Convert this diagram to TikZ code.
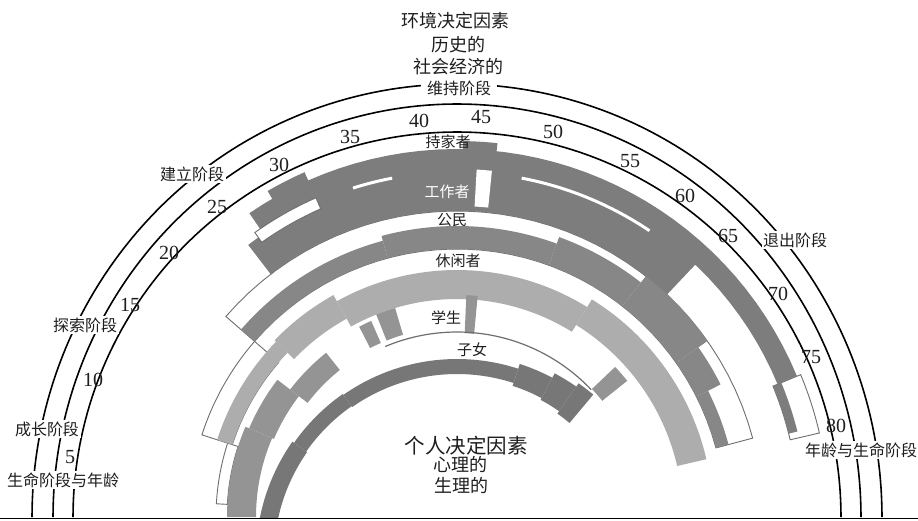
\documentclass[tikz,border=0pt]{standalone}
\usepackage{fontspec}
\setmainfont{Liberation Serif}
\newfontfamily\cjk{Noto Sans CJK SC}
\definecolor{hmc}{HTML}{7D7D7D}
\definecolor{cit}{HTML}{878787}
\definecolor{lei}{HTML}{ADADAD}
\definecolor{stu}{HTML}{949494}
\definecolor{chd}{HTML}{777777}
\definecolor{oln}{HTML}{6E6E6E}
\definecolor{ink}{HTML}{1E1E1E}
% annular sector around (457,517); angle from age: 180-2.1*age
\newcommand{\agesec}[5]{\path[#5] plot[domain=#1:#2,samples=40,variable=\t] ({457+#4*cos(180-2.1*\t)},{517-#4*sin(180-2.1*\t)}) -- plot[domain=#2:#1,samples=40,variable=\t] ({457+#3*cos(180-2.1*\t)},{517-#3*sin(180-2.1*\t)}) -- cycle;}
% annular sector around (457,557), angles in degrees
\newcommand{\chsec}[5]{\path[#5] plot[domain=#1:#2,samples=40,variable=\t] ({457+#4*cos(\t)},{557-#4*sin(\t)}) -- plot[domain=#2:#1,samples=40,variable=\t] ({457+#3*cos(\t)},{557-#3*sin(\t)}) -- cycle;}
\begin{document}
\begin{tikzpicture}[x=1pt,y=-1pt,
  ol/.style={fill=white,draw=oln,line width=0.9pt},
  hm/.style={fill=hmc},
  ci/.style={fill=cit},
  le/.style={fill=lei},
  st/.style={fill=stu},
  ch/.style={fill=chd},
  wh/.style={fill=white},
  arcline/.style={draw=black,line width=1.6pt},
  stage/.style={fill=white,inner sep=1.5pt,text=ink,font=\cjk\fontsize{16}{16}\selectfont},
  role/.style={inner sep=0pt,text=ink,font=\cjk\fontsize{15}{15}\selectfont},
  num/.style={inner sep=0pt,text=ink,font=\fontsize{20}{20}\selectfont},
  ttl/.style={inner sep=0pt,text=ink,font=\cjk\fontsize{18}{18}\selectfont},
  bigttl/.style={inner sep=0pt,text=ink,font=\cjk\fontsize{20.5}{20.5}\selectfont}]
\useasboundingbox (0,0) rectangle (918,520);
\fill[white] (0,0) rectangle (918,520);
\begin{scope}
\clip (0,0) rectangle (918,517);
% outlines of lanes
\agesec{8.5}{19.5}{236}{268}{ol}
\agesec{1.5}{8.5}{230}{241}{ol}
\agesec{19.5}{78.6}{268}{306}{ol}
\agesec{75}{79.5}{342}{372}{ol}
% homemaker
\agesec{26.5}{75}{347}{368}{hm}
\agesec{28.5}{31.5}{347}{377}{hm}
\agesec{43.3}{45.8}{347}{376}{hm}
\agesec{75}{79}{342}{351}{hm}
% worker
\agesec{25}{63.5}{306}{343}{hm}
\agesec{31.5}{63.5}{342}{348}{hm}
\agesec{34.5}{37.7}{343.5}{346.5}{wh}
\agesec{48}{59}{343.5}{346.5}{wh}
\agesec{44.4}{45.6}{311}{348}{wh}
\agesec{26}{31.5}{337}{349}{ol}
% citizen
\agesec{19.5}{35.7}{268}{286}{ci}
\agesec{35.7}{52.4}{268}{291}{ci}
\agesec{52.4}{61}{268}{298}{ci}
\agesec{61}{69}{268}{306}{ci}
\agesec{69}{73}{268}{295}{ci}
\agesec{73}{78.6}{268}{281}{ci}
% leisure
\agesec{8.5}{21}{236}{252}{le}
\agesec{21}{29}{227}{254}{le}
\agesec{29}{58}{218}{247}{le}
\agesec{58}{79.5}{226}{256}{le}
% student
\agesec{0}{11}{201}{230}{st}
\agesec{11}{17.8}{199}{226}{st}
\agesec{17.8}{24.5}{188}{210}{st}
\agesec{29.9}{31.6}{190}{214}{st}
\agesec{32.5}{35}{190}{218}{st}
\agesec{44}{45.4}{184}{222}{st}
\agesec{65}{67.3}{186}{218}{st}
\draw[oln,line width=1.2pt] plot[domain=32:65,samples=60,variable=\t] ({457+185*cos(180-2.1*\t)},{517-185*sin(180-2.1*\t)});
% child
\chsec{185}{145}{183}{201}{ch}
\chsec{145}{125}{184}{199}{ch}
\chsec{125}{72}{183}{198}{ch}
\chsec{72}{62}{180}{203}{ch}
\chsec{62}{55}{178}{208}{ch}
\chsec{55}{50}{175}{212}{ch}
\end{scope}
% life stage arcs
\draw[arcline] plot[domain=0:180,samples=150,variable=\t] ({457+425*cos(\t)},{517-433*sin(\t)});
\draw[arcline] plot[domain=0:180,samples=150,variable=\t] ({457+404*cos(\t)},{517-413*sin(\t)});
\draw[arcline] plot[domain=0:180,samples=150,variable=\t] ({457+384*cos(\t)},{517-385*sin(\t)});
\draw[line width=1.5pt] (0,518.5) -- (918,518.5);
% stage labels
\node[stage,inner xsep=6pt] (sm) at (459,88) {维持阶段};
\node[stage] (se) at (192,174) {建立阶段};
\node[stage] (sx) at (85,325) {探索阶段};
\node[stage] (sg) at (47,429) {成长阶段};
\node[stage] (sl) at (63,480) {生命阶段与年龄};
\node[stage] (sd) at (795,240) {退出阶段};
\node[stage] (sr) at (861,450) {年龄与生命阶段};
% ages
\node[num] (a5) at (70,457) {5};
\node[num] (a10) at (93,380) {10};
\node[num] (a15) at (130,305) {15};
\node[num] (a20) at (169,253) {20};
\node[num] (a25) at (217,207) {25};
\node[num] (a30) at (279,165) {30};
\node[num] (a35) at (350,137) {35};
\node[num] (a40) at (419,121) {40};
\node[num] (a45) at (481,117) {45};
\node[num] (a50) at (553,132) {50};
\node[num] (a55) at (630,161) {55};
\node[num] (a60) at (685,196) {60};
\node[num] (a65) at (728,236) {65};
\node[num] (a70) at (778,294) {70};
\node[num] (a75) at (811,357) {75};
\node[num] (a80) at (836,426) {80};
% roles
\node[role] (rhm) at (448,142) {持家者};
\node[role,text=white] (rwk) at (447,192) {工作者};
\node[role] (rci) at (452,220) {公民};
\node[role] (rle) at (458,261) {休闲者};
\node[role] (rst) at (446,318) {学生};
\node[role] (rch) at (472,350) {子女};
% determinants
\node[ttl] (env) at (455,21) {环境决定因素};
\node[ttl] (hist) at (458,45) {历史的};
\node[ttl] (soc) at (458,67) {社会经济的};
\node[bigttl] (pers) at (466,446) {个人决定因素};
\node[ttl] (psy) at (460,464) {心理的};
\node[ttl] (bio) at (461,485) {生理的};
\end{tikzpicture}
\end{document}
